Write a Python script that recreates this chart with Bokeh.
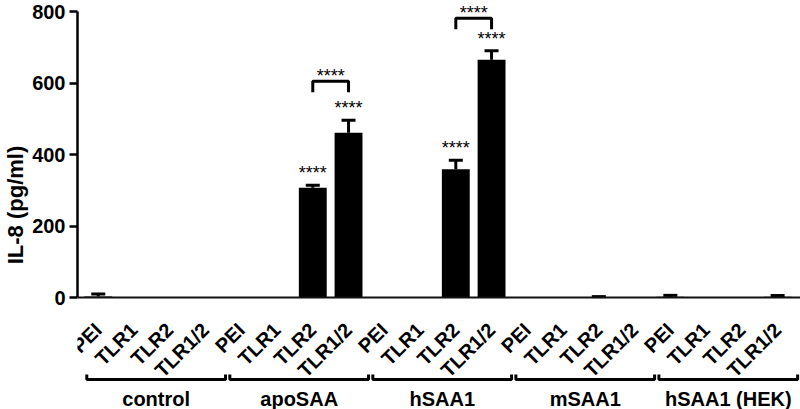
import math
from bokeh.plotting import figure
from bokeh.models import (Range1d, FixedTicker, Span, ColumnDataSource, LabelSet,
                          Whisker, TeeHead)
from bokeh.core.properties import value
from bokeh.embed import file_html
from bokeh.resources import INLINE

# ---------------- data ----------------
groups = ["control", "apoSAA", "hSAA1", "mSAA1", "hSAA1 (HEK)"]
conditions = ["PEI", "TLR1", "TLR2", "TLR1/2"]
il8_mean = [3, 0, 0, 0,
            0, 0, 307, 461,
            0, 0, 359, 665,
            0, 0, 1, 0,
            2, 0, 0, 2]
il8_sem = [7, 0, 0, 0,
           0, 0, 7, 35,
           0, 0, 25, 25,
           0, 0, 1.5, 0,
           4, 0, 0, 3.5]
star_bars = [6, 7, 10, 11]
star_text = ["****", "****", "****", "****"]
pair_left = [6, 10]
pair_right = [7, 11]
pair_level = [605, 781]
pair_text = ["****", "****"]
y_ticks = [0, 200, 400, 600, 800]

# ---------------- geometry ----------------
W, H = 800, 409
BASE_PX = 297           # canvas y of value 0
TOP_PX = 11             # canvas y of value 800
k = (BASE_PX - TOP_PX) / 800.0   # px per unit
Y_TOP = 800 + TOP_PX / k
Y_BOT = -(H - BASE_PX) / k


def below(px):
    return -px / k


def up(px):
    return px / k


FONT = "Liberation Sans"
n = len(groups) * len(conditions)
idx = list(range(n))
labels = [c for g in groups for c in conditions]

p = figure(width=W, height=H, x_range=Range1d(-0.58, 19.64),
           y_range=Range1d(Y_BOT, Y_TOP), output_backend="svg",
           toolbar_location=None, x_axis_type=None,
           min_border_top=0, min_border_bottom=0, min_border_right=0,
           min_border_left=0)
p.outline_line_color = None
p.grid.grid_line_color = None
p.background_fill_color = "white"

ax = p.yaxis[0]
ax.ticker = FixedTicker(ticks=y_ticks)
ax.bounds = (0, 800)
ax.axis_line_width = 2.5
ax.axis_line_color = "black"
ax.major_tick_line_width = 2.5
ax.major_tick_line_color = "black"
ax.major_tick_out = 8
ax.major_tick_in = 0
ax.minor_tick_line_color = None
ax.major_label_text_font = FONT
ax.major_label_text_font_style = "bold"
ax.major_label_text_font_size = "20px"
ax.major_label_text_color = "black"
ax.major_label_standoff = 4
ax.axis_label = "IL-8 (pg/ml)"
ax.axis_label_text_font = FONT
ax.axis_label_text_font_style = "bold"
ax.axis_label_text_font_size = "22px"
ax.axis_label_text_color = "black"
ax.axis_label_standoff = 1

# baseline (x axis line)
p.add_layout(Span(location=0, dimension="width", line_color="#111111",
                  line_width=2))

# bars
p.vbar(x=idx, top=il8_mean, bottom=0, width=0.78, fill_color="black",
       line_color=None)

# error bars (upper only)
ex = [i for i in idx if il8_sem[i] > 0]
err_src = ColumnDataSource(dict(
    x=ex,
    lower=[il8_mean[i] for i in ex],
    upper=[il8_mean[i] + il8_sem[i] for i in ex]))
p.add_layout(Whisker(base="x", lower="lower", upper="upper", source=err_src,
                     dimension="height", line_width=3, line_color="black",
                     upper_head=TeeHead(size=14, line_width=3,
                                        line_color="black"),
                     lower_head=None))

# stars above bars
p.text(x=star_bars,
       y=[il8_mean[i] + il8_sem[i] + up(12) for i in star_bars],
       text=star_text, text_align="center", text_baseline="middle",
       text_font=value(FONT), text_font_size="18px", text_color="black")

# comparison brackets
leg = up(11)
bxs = [[l, l, r, r] for l, r in zip(pair_left, pair_right)]
bys = [[lv - leg, lv, lv, lv - leg] for lv in pair_level]
p.multi_line(xs=bxs, ys=bys, line_width=3, line_color="black")
p.text(x=[(l + r) / 2 for l, r in zip(pair_left, pair_right)],
       y=[lv + up(5) for lv in pair_level], text=pair_text,
       text_align="center", text_baseline="middle",
       text_font=value(FONT), text_font_size="18px", text_color="black")

# rotated condition labels
lab_src = ColumnDataSource(dict(x=idx, y=[below(29)] * n, text=labels))
p.add_layout(LabelSet(x="x", y="y", text="text", source=lab_src,
                      angle=math.pi / 4, text_align="right",
                      text_baseline="middle", text_font=value(FONT),
                      text_font_style="bold", text_font_size="20px",
                      text_color="black"))

# group brackets
ng = len(conditions)
gc = [ng * g + 1.62 for g in range(len(groups))]
hw = 1.94
yb = below(82)
gleg = up(5)
p.multi_line(xs=[[c - hw, c - hw, c + hw, c + hw] for c in gc],
             ys=[[yb + gleg, yb, yb, yb + gleg] for _ in gc],
             line_width=3, line_color="black")
p.text(x=gc, y=[below(101)] * len(gc), text=groups, text_align="center",
       text_baseline="middle", text_font=value(FONT),
       text_font_style="bold", text_font_size="20px", text_color="black")

open("out.html", "w").write(file_html(p, INLINE))
